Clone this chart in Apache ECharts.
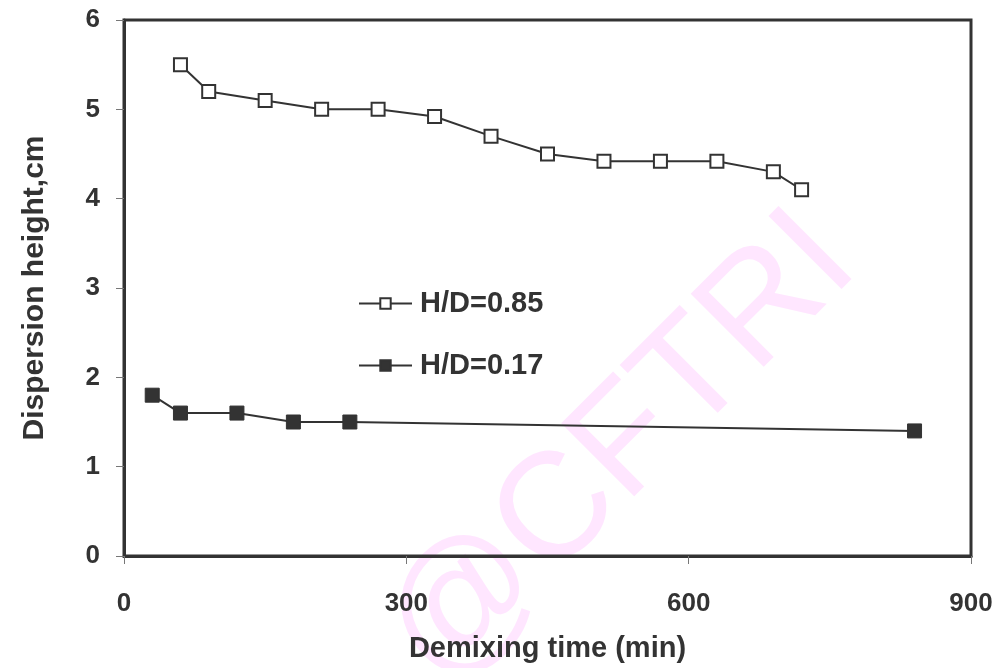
<!DOCTYPE html>
<html><head><meta charset="utf-8">
<script src="https://cdn.jsdelivr.net/npm/echarts@6/dist/echarts.min.js"></script>
<style>html,body{margin:0;padding:0;background:#fff}#c{width:1001px;height:668px}</style>
</head><body><div id="c"></div>
<script>
const seriesNames = ['H/D=0.85', 'H/D=0.17'];
const timeA = [60, 90, 150, 210, 270, 330, 390, 450, 510, 570, 630, 690, 720];
const heightA = [5.5, 5.2, 5.1, 5.0, 5.0, 4.92, 4.7, 4.5, 4.42, 4.42, 4.42, 4.3, 4.1];
const timeB = [30, 60, 120, 180, 240, 840];
const heightB = [1.8, 1.6, 1.6, 1.5, 1.5, 1.4];
const xTicks = [0, 300, 600, 900];
const yTicks = [0, 1, 2, 3, 4, 5, 6];

const dark = '#333333';
const font = 'Liberation Sans';
const chart = echarts.init(document.getElementById('c'), null, {renderer: 'canvas'});
chart.setOption({
  animation: false,
  backgroundColor: '#fff',
  graphic: [{
    type: 'text', z: -10,
    x: 412, y: 660, rotation: Math.PI / 4,
    style: {text: '@CFTRI', fill: '#ffe6ff', font: 'normal 150px "Liberation Sans"', verticalAlign: 'middle', align: 'left'}
  }],
  grid: {left: 124, right: 30, top: 20, bottom: 111, show: true, borderColor: dark, borderWidth: 3, backgroundColor: 'transparent'},
  legend: {
    orient: 'vertical', left: 353, top: 284, itemGap: 33, itemWidth: 53, itemHeight: 13,
    data: seriesNames,
    textStyle: {fontFamily: font, fontWeight: 'bold', fontSize: 29, color: dark, padding: [0, 0, 0, 3]}
  },
  xAxis: {
    type: 'value', min: xTicks[0], max: xTicks[xTicks.length - 1], interval: 300,
    name: 'Demixing time (min)', nameLocation: 'middle', nameGap: 78,
    nameTextStyle: {fontFamily: font, fontWeight: 'bold', fontSize: 29, color: dark},
    axisLine: {lineStyle: {color: dark, width: 3}},
    axisTick: {show: true, length: 8, lineStyle: {color: '#777', width: 1}},
    axisLabel: {margin: 35, fontFamily: font, fontWeight: 'bold', fontSize: 26, color: dark},
    splitLine: {show: false}
  },
  yAxis: {
    type: 'value', min: yTicks[0], max: yTicks[yTicks.length - 1], interval: 1,
    name: 'Dispersion height,cm', nameLocation: 'middle', nameGap: 74,
    nameTextStyle: {fontFamily: font, fontWeight: 'bold', fontSize: 30, color: dark},
    axisLine: {lineStyle: {color: dark, width: 3}},
    axisTick: {show: true, length: 8, lineStyle: {color: '#777', width: 1}},
    axisLabel: {margin: 24, fontFamily: font, fontWeight: 'bold', fontSize: 26, color: dark},
    splitLine: {show: false}
  },
  series: [
    {
      name: seriesNames[0], type: 'line', data: timeA.map((t, i) => [t, heightA[i]]),
      symbol: 'rect', symbolSize: 13, showAllSymbol: true,
      lineStyle: {color: dark, width: 2},
      itemStyle: {color: '#fff', borderColor: dark, borderWidth: 2}
    },
    {
      name: seriesNames[1], type: 'line', data: timeB.map((t, i) => [t, heightB[i]]),
      symbol: 'rect', symbolSize: 14, showAllSymbol: true,
      lineStyle: {color: dark, width: 2},
      itemStyle: {color: dark, borderColor: dark, borderWidth: 1}
    }
  ]
});
</script></body></html>
